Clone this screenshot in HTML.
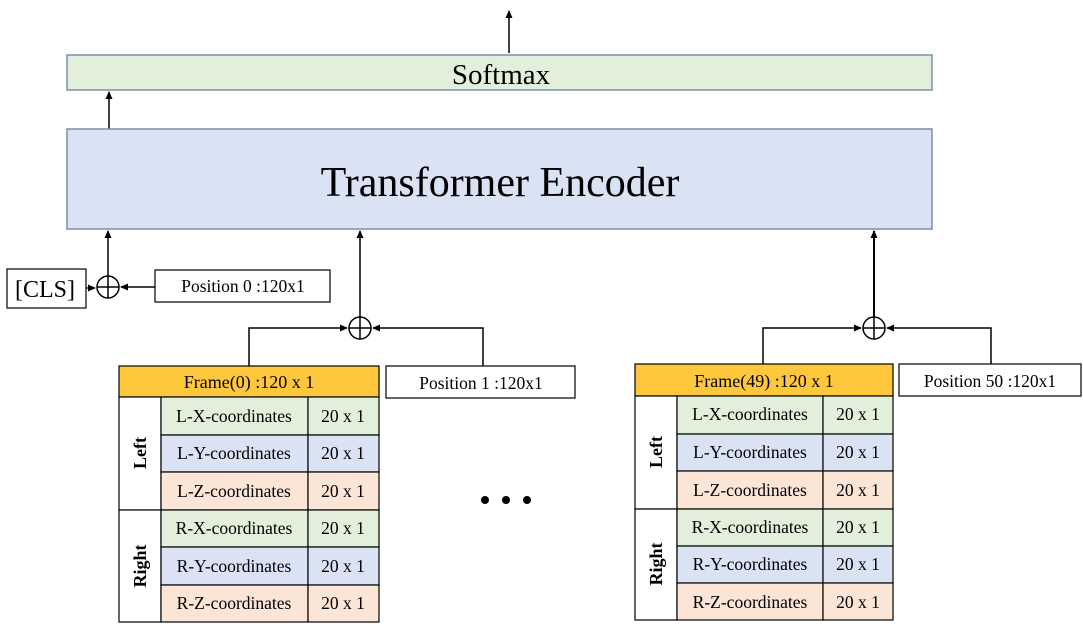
<!DOCTYPE html>
<html><head><meta charset="utf-8"><style>
html,body{margin:0;padding:0;background:#fff;}
svg{display:block;font-family:"Liberation Serif",serif;}
</style></head><body>
<svg width="1083" height="626" viewBox="0 0 1083 626" xmlns="http://www.w3.org/2000/svg">
<defs><marker id="a" markerWidth="8" markerHeight="8" refX="7" refY="4" orient="auto" markerUnits="userSpaceOnUse"><path d="M0,0.5 L8,4 L0,7.5 z" fill="#000"/></marker></defs>
<line x1="509" y1="53" x2="509" y2="11" stroke="#000" stroke-width="1.5" marker-end="url(#a)"/>
<rect x="67" y="55" width="865" height="35" fill="#e2efda" stroke="#7f8fa8" stroke-width="1.5"/>
<text x="501" y="84" font-size="29" text-anchor="middle">Softmax</text>
<line x1="109" y1="129" x2="109" y2="92" stroke="#000" stroke-width="1.5" marker-end="url(#a)"/>
<rect x="67" y="129" width="865" height="100" fill="#dae3f3" stroke="#7f8fa8" stroke-width="1.5"/>
<text x="500" y="196" font-size="42" text-anchor="middle">Transformer Encoder</text>
<rect x="7" y="269" width="79" height="39" fill="#fff" stroke="#000" stroke-width="1.2"/>
<text x="45" y="297" font-size="24" text-anchor="middle">[CLS]</text>
<line x1="86" y1="288" x2="95" y2="288" stroke="#000" stroke-width="1.2" marker-end="url(#a)"/>
<circle cx="108" cy="287" r="11" fill="#fff" stroke="#000" stroke-width="1.5"/>
<path d="M97,287 H119 M108,276 V298" stroke="#000" stroke-width="1.5"/>
<line x1="108" y1="276" x2="108" y2="231" stroke="#000" stroke-width="1.5" marker-end="url(#a)"/>
<rect x="155" y="270" width="175" height="32" fill="#fff" stroke="#000" stroke-width="1.2"/>
<text x="243" y="292" font-size="17.5" text-anchor="middle">Position 0 :120x1</text>
<line x1="155" y1="287" x2="121" y2="287" stroke="#000" stroke-width="1.5" marker-end="url(#a)"/>
<circle cx="360" cy="328" r="11" fill="#fff" stroke="#000" stroke-width="1.5"/>
<path d="M349,328 H371 M360,317 V339" stroke="#000" stroke-width="1.5"/>
<line x1="360" y1="317" x2="360" y2="231" stroke="#000" stroke-width="1.5" marker-end="url(#a)"/>
<polyline points="249,366 249,328 347,328" fill="none" stroke="#000" stroke-width="1.5" marker-end="url(#a)"/>
<polyline points="483,366 483,328 373,328" fill="none" stroke="#000" stroke-width="1.5" marker-end="url(#a)"/>
<rect x="386" y="366" width="189" height="32" fill="#fff" stroke="#000" stroke-width="1.2"/>
<text x="481" y="389" font-size="17.5" text-anchor="middle">Position 1 :120x1</text>
<circle cx="874" cy="328" r="11" fill="#fff" stroke="#000" stroke-width="1.5"/>
<path d="M863,328 H885 M874,317 V339" stroke="#000" stroke-width="1.5"/>
<line x1="874" y1="317" x2="874" y2="231" stroke="#000" stroke-width="2" marker-end="url(#a)"/>
<polyline points="763,364 763,328 861,328" fill="none" stroke="#000" stroke-width="1.5" marker-end="url(#a)"/>
<polyline points="991,364 991,328 887,328" fill="none" stroke="#000" stroke-width="1.5" marker-end="url(#a)"/>
<rect x="899" y="364" width="182" height="32" fill="#fff" stroke="#000" stroke-width="1.2"/>
<text x="990" y="387" font-size="17.5" text-anchor="middle">Position 50 :120x1</text>
<circle cx="485" cy="500" r="4"/><circle cx="506" cy="500" r="4"/><circle cx="527" cy="500" r="4"/>
<g font-size="17.5" text-anchor="middle" stroke-width="1.2">
<rect x="119" y="366" width="260" height="31" fill="#ffc83c" stroke="#000"/>
<text x="249" y="388" font-size="18">Frame(0) :120 x 1</text>
<rect x="119" y="397" width="42" height="113" fill="#fff" stroke="#000"/>
<rect x="119" y="510" width="42" height="112" fill="#fff" stroke="#000"/>
<text transform="translate(146,453) rotate(-90)" font-weight="bold" font-size="18">Left</text>
<text transform="translate(146,566) rotate(-90)" font-weight="bold" font-size="18">Right</text>
<rect x="161" y="397" width="147" height="38" fill="#e2efda" stroke="#000"/><rect x="308" y="397" width="71" height="38" fill="#e2efda" stroke="#000"/>
<rect x="161" y="435" width="147" height="37" fill="#dae3f3" stroke="#000"/><rect x="308" y="435" width="71" height="37" fill="#dae3f3" stroke="#000"/>
<rect x="161" y="472" width="147" height="38" fill="#fbe5d6" stroke="#000"/><rect x="308" y="472" width="71" height="38" fill="#fbe5d6" stroke="#000"/>
<rect x="161" y="510" width="147" height="37" fill="#e2efda" stroke="#000"/><rect x="308" y="510" width="71" height="37" fill="#e2efda" stroke="#000"/>
<rect x="161" y="547" width="147" height="38" fill="#dae3f3" stroke="#000"/><rect x="308" y="547" width="71" height="38" fill="#dae3f3" stroke="#000"/>
<rect x="161" y="585" width="147" height="37" fill="#fbe5d6" stroke="#000"/><rect x="308" y="585" width="71" height="37" fill="#fbe5d6" stroke="#000"/>
<text x="234" y="422">L-X-coordinates</text><text x="343" y="422">20 x 1</text>
<text x="234" y="459">L-Y-coordinates</text><text x="343" y="459">20 x 1</text>
<text x="234" y="497">L-Z-coordinates</text><text x="343" y="497">20 x 1</text>
<text x="234" y="534">R-X-coordinates</text><text x="343" y="534">20 x 1</text>
<text x="234" y="572">R-Y-coordinates</text><text x="343" y="572">20 x 1</text>
<text x="234" y="609">R-Z-coordinates</text><text x="343" y="609">20 x 1</text>
</g>
<g font-size="17.5" text-anchor="middle" stroke-width="1.2">
<rect x="635" y="364" width="258" height="32" fill="#ffc83c" stroke="#000"/>
<text x="764" y="387" font-size="18">Frame(49) :120 x 1</text>
<rect x="635" y="396" width="42" height="113" fill="#fff" stroke="#000"/>
<rect x="635" y="509" width="42" height="111" fill="#fff" stroke="#000"/>
<text transform="translate(662,452) rotate(-90)" font-weight="bold" font-size="18">Left</text>
<text transform="translate(662,564) rotate(-90)" font-weight="bold" font-size="18">Right</text>
<rect x="677" y="396" width="146" height="38" fill="#e2efda" stroke="#000"/><rect x="823" y="396" width="70" height="38" fill="#e2efda" stroke="#000"/>
<rect x="677" y="434" width="146" height="37" fill="#dae3f3" stroke="#000"/><rect x="823" y="434" width="70" height="37" fill="#dae3f3" stroke="#000"/>
<rect x="677" y="471" width="146" height="38" fill="#fbe5d6" stroke="#000"/><rect x="823" y="471" width="70" height="38" fill="#fbe5d6" stroke="#000"/>
<rect x="677" y="509" width="146" height="37" fill="#e2efda" stroke="#000"/><rect x="823" y="509" width="70" height="37" fill="#e2efda" stroke="#000"/>
<rect x="677" y="546" width="146" height="37" fill="#dae3f3" stroke="#000"/><rect x="823" y="546" width="70" height="37" fill="#dae3f3" stroke="#000"/>
<rect x="677" y="583" width="146" height="37" fill="#fbe5d6" stroke="#000"/><rect x="823" y="583" width="70" height="37" fill="#fbe5d6" stroke="#000"/>
<text x="750" y="420">L-X-coordinates</text><text x="858" y="420">20 x 1</text>
<text x="750" y="458">L-Y-coordinates</text><text x="858" y="458">20 x 1</text>
<text x="750" y="496">L-Z-coordinates</text><text x="858" y="496">20 x 1</text>
<text x="750" y="533">R-X-coordinates</text><text x="858" y="533">20 x 1</text>
<text x="750" y="570">R-Y-coordinates</text><text x="858" y="570">20 x 1</text>
<text x="750" y="608">R-Z-coordinates</text><text x="858" y="608">20 x 1</text>
</g>
</svg>
</body></html>
